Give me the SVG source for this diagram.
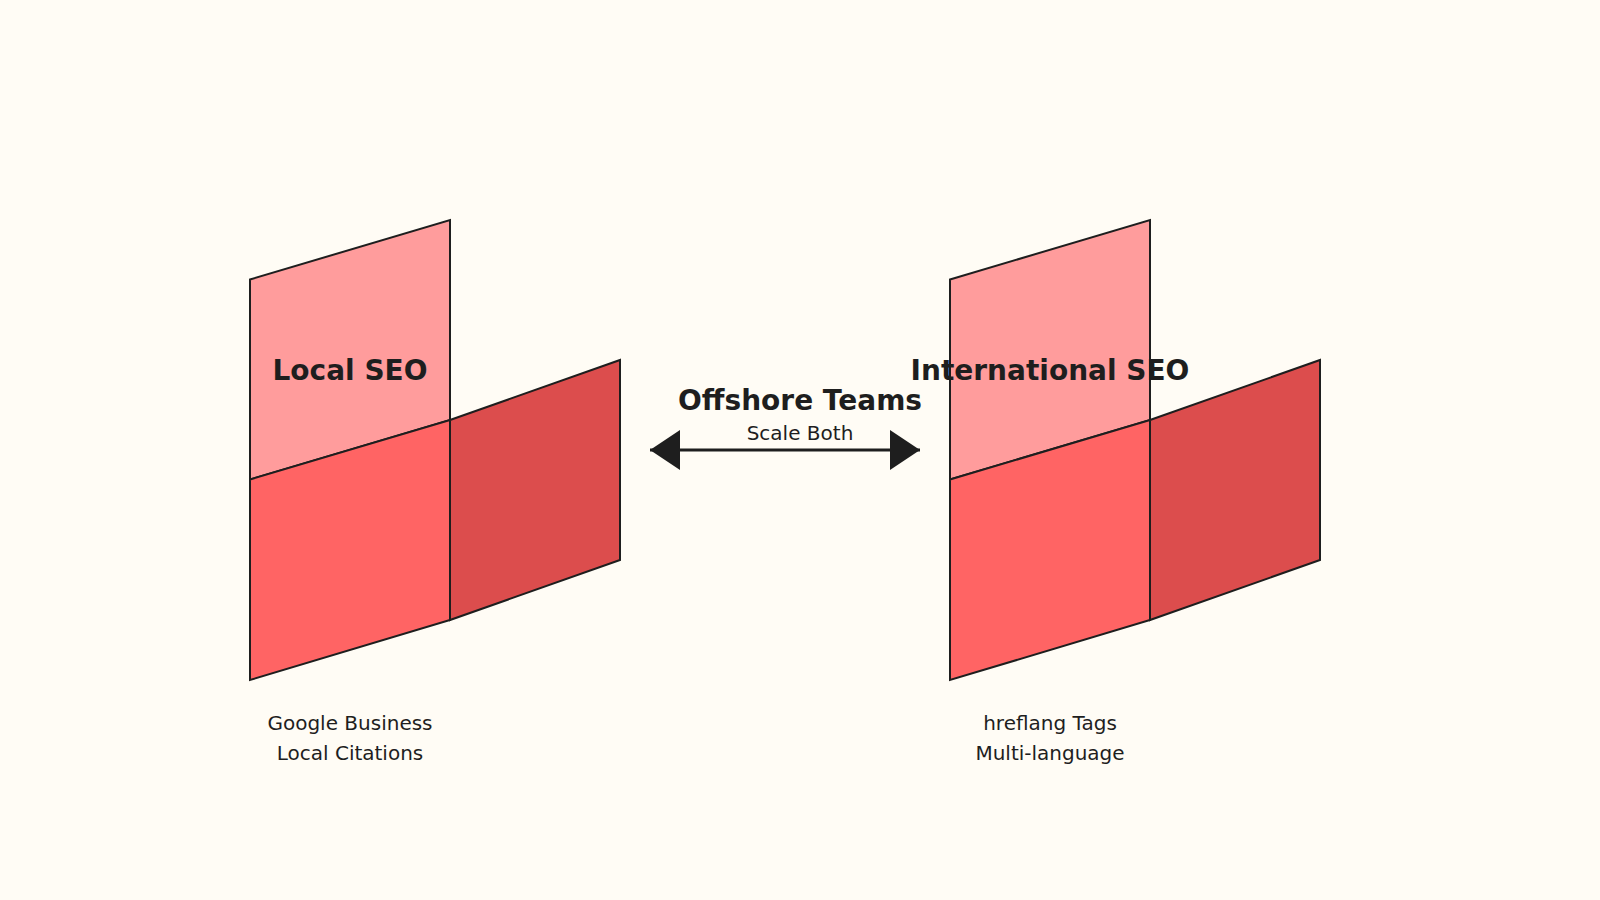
<svg xmlns="http://www.w3.org/2000/svg" width="1600" height="900" viewBox="0 0 1600 900">
  <defs>
    <style>
      .face { stroke: #1e1e1e; stroke-width: 2; stroke-linejoin: miter; }
      .back { fill: #FF9C9C; }
      .front { fill: #FF6464; }
      .side { fill: #DC4D4D; }
      .title { font-family: "DejaVu Sans", sans-serif; font-weight: bold; font-size: 28px; fill: #1e1e1e; text-anchor: middle; }
      .label { font-family: "DejaVu Sans", sans-serif; font-size: 20px; fill: #1e1e1e; text-anchor: middle; }
    </style>
    <marker id="arrow" viewBox="0 0 30 40" refX="30" refY="20" markerWidth="30" markerHeight="40" markerUnits="userSpaceOnUse" orient="auto-start-reverse">
      <path d="M0,0 L30,20 L0,40 Z" fill="#1e1e1e"/>
    </marker>
  </defs>
  <rect width="1600" height="900" fill="#FFFCF5"/>

  <g id="local-seo">
    <polygon class="face back" points="250,279.5 450,220 450,420 250,479.5"/>
    <polygon class="face front" points="250,479.5 450,420 450,620 250,680"/>
    <polygon class="face side" points="450,420 620,360 620,560 450,620"/>
    <text class="title" x="350" y="380">Local SEO</text>
    <text class="label" x="350" y="730">Google Business</text>
    <text class="label" x="350" y="760">Local Citations</text>
  </g>

  <g id="international-seo">
    <polygon class="face back" points="950,279.5 1150,220 1150,420 950,479.5"/>
    <polygon class="face front" points="950,479.5 1150,420 1150,620 950,680"/>
    <polygon class="face side" points="1150,420 1320,360 1320,560 1150,620"/>
    <text class="title" x="1050" y="380">International SEO</text>
    <text class="label" x="1050" y="730">hreflang Tags</text>
    <text class="label" x="1050" y="760">Multi-language</text>
  </g>

  <g id="offshore-teams">
    <text class="title" x="800" y="410">Offshore Teams</text>
  </g>

  <g id="connectors">
    <line x1="650" y1="450" x2="920" y2="450" stroke="#1e1e1e" stroke-width="3" marker-start="url(#arrow)" marker-end="url(#arrow)"/>
    <text class="label" x="800" y="440">Scale Both</text>
  </g>
</svg>
